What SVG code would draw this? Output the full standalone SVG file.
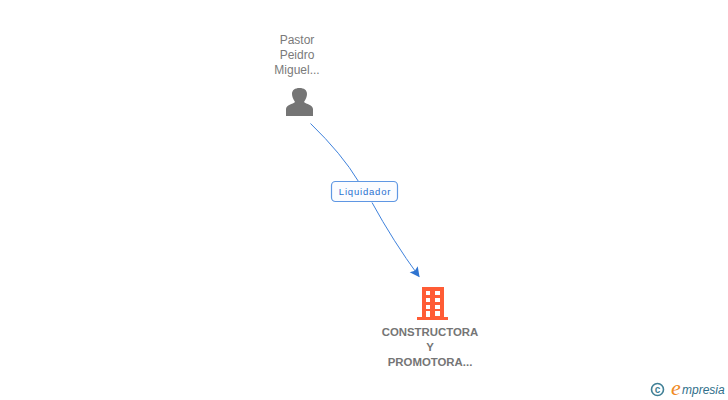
<svg xmlns="http://www.w3.org/2000/svg" width="728" height="400" viewBox="0 0 728 400">
<style>
.p{font:12px "Liberation Sans",Arial,sans-serif;fill:#7a7a7a;text-anchor:middle}
.c{font:bold 11.400px "Liberation Sans",Arial,sans-serif;fill:#757575;text-anchor:middle}
.l{font:9.500px "Liberation Sans",Arial,sans-serif;fill:#2a6fd0;text-anchor:middle;letter-spacing:.8px}
</style>
<defs><marker id="a" markerUnits="userSpaceOnUse" markerWidth="12" markerHeight="12" refX="9" refY="5" orient="auto"><path d="M0 0L10 5L0 10L2 5Z" fill="#2f74d0"/></marker></defs>
<rect width="728" height="400" fill="#fff"/>
<g id="connectors">
<path d="M310.500 123.500Q342 154 358.500 181.500M372 202.500Q393 241 419 276.500" fill="none" stroke="#3f82dc" stroke-width="1" marker-end="url(#a)"/>
</g>
<g id="edge-label">
<rect x="331.500" y="181.500" width="66" height="20" rx="4" fill="#fbfcff" stroke="#5f97e3" stroke-width="1.200"/>
<text class="l" x="365" y="195">Liquidador</text>
</g>
<g id="person">
<text class="p" x="297" y="44">Pastor</text>
<text class="p" x="297" y="59">Peidro</text>
<text class="p" x="297" y="74">Miguel...</text>
<path d="M286 116V109C286 105 293 104 295 102C293 99 292 96 292 94C292 90 295 88 299.500 88C304 88 307 90 307 94C307 96 306 99 304 102C306 104 313 105 313 109V116Z" fill="#757575"/>
</g>
<g id="company">
<path fill="#ff5c35" fill-rule="evenodd" d="M422 287H444V317H448V320H417V317H422ZM426 291V295H430V291ZM435 291V295H440V291ZM426 298V302H430V298ZM435 298V302H440V298ZM426 305V309H430V305ZM435 305V309H440V305ZM426 311V317H430V311ZM435 311V316H440V311Z"/>
<text class="c" x="430" y="336">CONSTRUCTORA</text>
<text class="c" x="430" y="351">Y</text>
<text class="c" x="430" y="366">PROMOTORA...</text>
</g>
<g id="watermark">
<circle cx="657.500" cy="389.500" r="6" fill="none" stroke="#3f7f95" stroke-width="1.600"/>
<text x="657.500" y="393" font-family="Liberation Sans,sans-serif" font-size="10" font-weight="bold" fill="#3f7f95" text-anchor="middle">c</text>
<text x="671" y="395" font-family="Liberation Serif,serif" font-style="italic" font-size="22" fill="#f08a24">e</text>
<text x="682" y="394" font-family="Liberation Sans,sans-serif" font-style="italic" font-size="12" fill="#2f6f8a">mpresia</text>
</g>
</svg>
